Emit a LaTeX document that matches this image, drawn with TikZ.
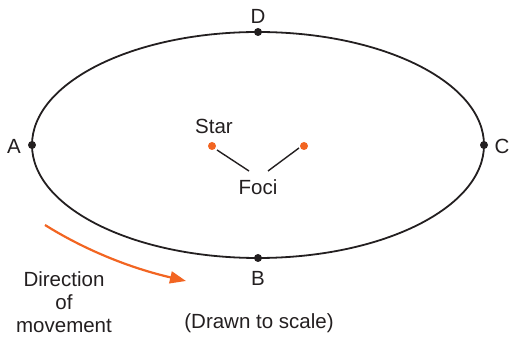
\documentclass[tikz,border=0pt]{standalone}
\usepackage{fontspec}
\setmainfont{Liberation Sans}
\usetikzlibrary{arrows.meta}
\definecolor{orb}{HTML}{231F20}
\definecolor{ora}{HTML}{F26522}
\begin{document}
\begin{tikzpicture}[x=1pt,y=-1pt,
  lbl/.style={font=\fontsize{20.5}{23}\selectfont, text=orb, inner sep=0pt, align=center},
  pt/.style={circle, fill=orb, minimum size=8pt, inner sep=0pt},
  fpt/.style={circle, fill=ora, minimum size=8pt, inner sep=0pt},
  leader/.style={draw=orb, line width=1.4pt}]
\useasboundingbox (0,0) rectangle (509,339);
\draw[orb, line width=1.8pt] (258,145) ellipse [x radius=226, y radius=113];
\node[pt] (pa) at (32,145) {};
\node[pt] (pc) at (484,145) {};
\node[pt] (pd) at (258,32) {};
\node[pt] (pb) at (258,258) {};
\node[lbl] (la) at (14,146) {A};
\node[lbl] (lc) at (502,146) {C};
\node[lbl] (ld) at (258,16) {D};
\node[lbl] (lb) at (258,278) {B};
\node[fpt] (f1) at (212,146) {};
\node[fpt] (f2) at (304,146) {};
\node[lbl] (star) at (214,126) {Star};
\node[lbl] (foci) at (258,187) {Foci};
\coordinate (l1a) at (217,150);
\coordinate (l1b) at (249,171);
\coordinate (l2a) at (299,148);
\coordinate (l2b) at (268,171);
\draw[leader] (l1a) -- (l1b);
\draw[leader] (l2a) -- (l2b);
\coordinate (arS) at (45,225);
\coordinate (arE) at (186,281);
\draw[ora, line width=2.2pt, -{Triangle[length=16pt, width=12pt]}] (arS) .. controls (85,250) and (130,268) .. (arE);
\node[lbl] (dir) at (64,302) {Direction\\of\\movement};
\node[lbl] (scale) at (259,323) {(Drawn to scale)};
\end{tikzpicture}
\end{document}
